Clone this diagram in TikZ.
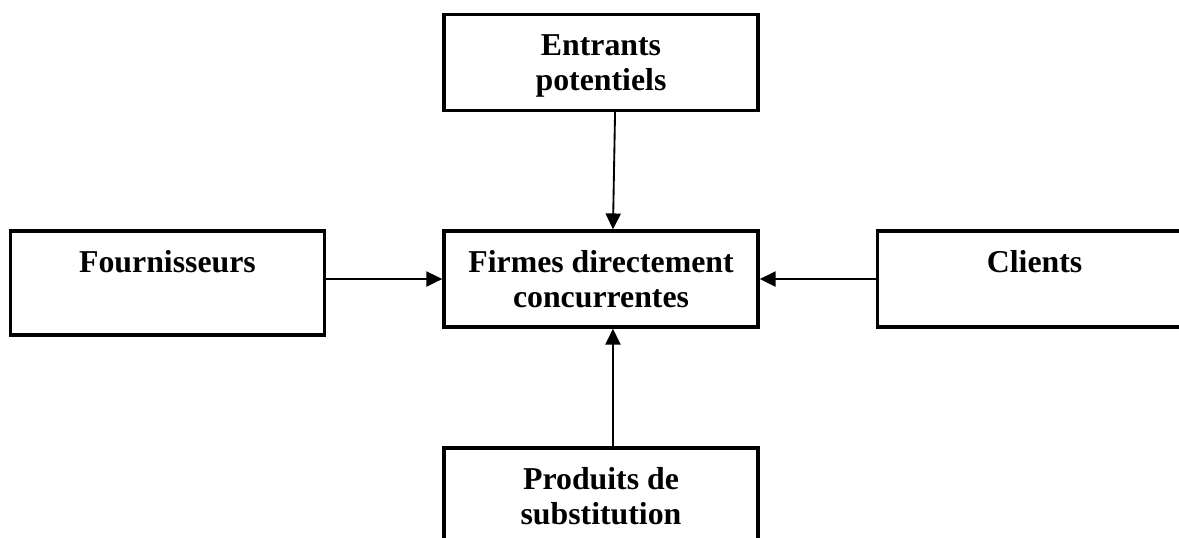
\documentclass[tikz,border=0pt]{standalone}
\usepackage{fontspec}
\setmainfont{Liberation Serif}
\usetikzlibrary{arrows.meta,positioning}

\begin{document}
\begin{tikzpicture}[node distance=44.3pt and 43.8pt, every node/.style={font=\fontsize{12}{13.2}\selectfont\bfseries}, box/.style={draw,line width=1.3pt,align=center,minimum width=118.5pt,minimum height=36.2pt,inner ysep=0pt}, onebox/.style={box,text height=15.5pt,text depth=#1}, arrow/.style={-{Triangle[length=6pt,width=5.7pt]},line width=0.7pt}]
\clip (-226.8pt,-97.4pt) rectangle (218.1pt,105.3pt);
\node[box] (firmes) {Firmes directement\\concurrentes};
\node[box, above=of firmes, text depth=0pt] (entrants) {Entrants\\potentiels};
\node[onebox=23.7pt, left=of firmes.north west, anchor=north east] (fournisseurs) {Fournisseurs};
\node[onebox=20.7pt, right=of firmes.north east, anchor=north west] (clients) {Clients};
\node[box, below=of firmes] (produits) {Produits de\\substitution};
\draw[arrow] ([xshift=5.3pt]entrants.south) -- ([xshift=4.5pt]firmes.north);
\draw[arrow] (fournisseurs.east |- firmes.west) -- (firmes.west);
\draw[arrow] (clients.west |- firmes.east) -- (firmes.east);
\draw[arrow] ([xshift=4.5pt]produits.north) -- ([xshift=4.5pt]firmes.south);
\end{tikzpicture}
\end{document}
